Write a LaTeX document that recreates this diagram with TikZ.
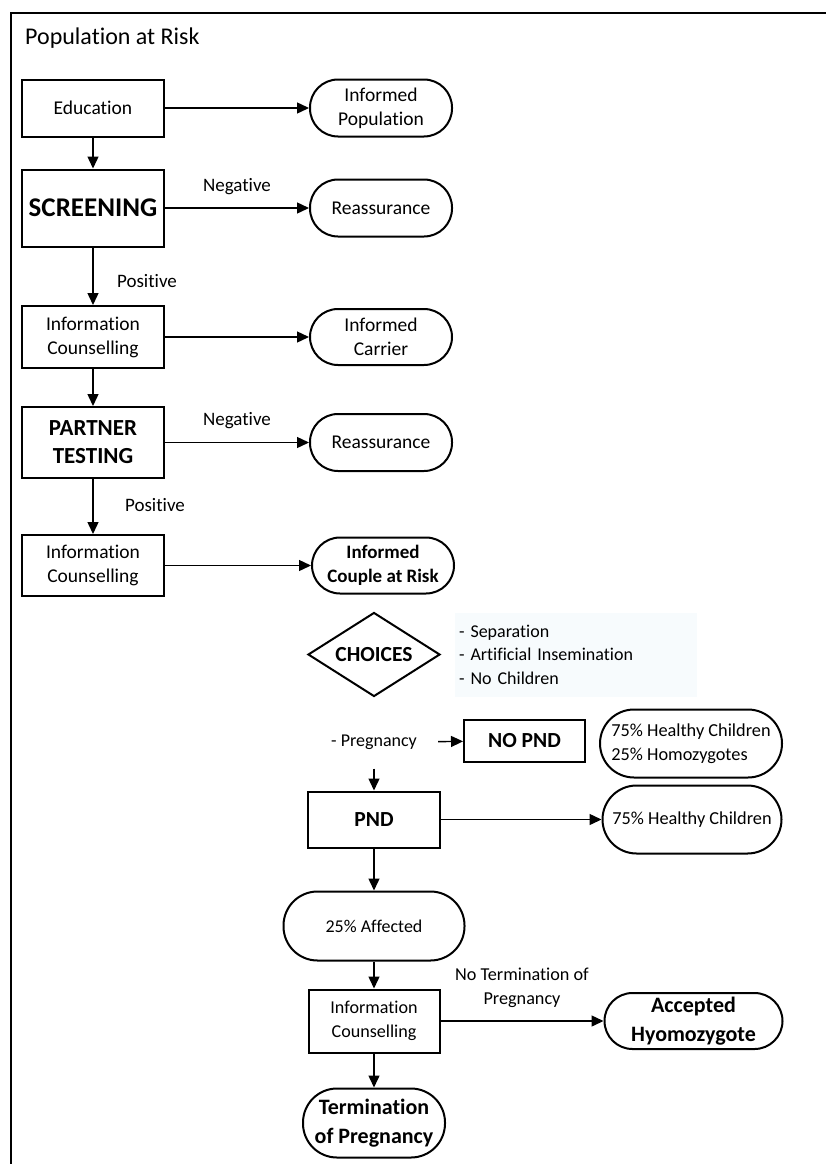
\documentclass[tikz,border=0pt]{standalone}
\usepackage{fontspec}
\setmainfont{Carlito}[Ligatures=NoCommon]
\usetikzlibrary{shapes.geometric, arrows.meta, positioning}
\definecolor{optfill}{RGB}{247,251,253}
\tikzstyle{process} = [
  rectangle,
  minimum width=142pt,
  minimum height=57pt,
  inner sep=2pt,
  text centered,
  align=center,
  draw=black,
  line width=2pt,
  font=\fontsize{19.5}{24}\selectfont
]
\tikzstyle{terminal} = [
  rectangle,
  rounded corners=28pt,
  minimum width=142pt,
  minimum height=57pt,
  inner sep=2pt,
  text centered,
  align=center,
  draw=black,
  line width=2pt,
  font=\fontsize{19.5}{24}\selectfont
]
\tikzstyle{decision} = [
  diamond,
  aspect=1.57,
  minimum width=132pt,
  minimum height=84pt,
  inner sep=0pt,
  draw=black,
  line width=2pt,
  font=\bfseries\fontsize{21.5}{26}\selectfont
]
\tikzstyle{branch} = [font=\fontsize{19}{24}\selectfont, align=center]
\tikzstyle{lower} = [font=\fontsize{18.3}{24}\selectfont]
\tikzstyle{arrow} = [line width=1.4pt, -{Triangle[length=12pt, width=11pt]}]

\begin{document}
\begin{tikzpicture}[x=1pt, y=1pt, node distance=100pt]
    \useasboundingbox (0,0) rectangle (825,-1164);
    \draw [line width=2.4pt] (11,-13) rectangle (860,-1200);
    \node (title) [anchor=west, inner sep=0pt, font=\fontsize{24}{29}\selectfont] at (25,-38) {Population at Risk};

    \node (education) [process] at (93,-108) {Education};
    \node (inf-population) [terminal, right of=education, xshift=188pt] {Informed\\Population};
    \node (screening) [process, below of=education, minimum height=77pt, font=\bfseries\fontsize{27}{32}\selectfont] {SCREENING};
    \node (reassurance-a) [terminal, right of=screening, xshift=188pt] {Reassurance};
    \node (info-a) [process, below of=screening, yshift=-29pt, minimum height=62pt] {Information\\Counselling};
    \node (inf-carrier) [terminal, right of=info-a, xshift=188pt, minimum height=56pt] {Informed\\Carrier};
    \node (partner) [process, below of=info-a, yshift=-5.5pt, minimum height=71pt, font=\bfseries\fontsize{23}{28}\selectfont] {PARTNER\\TESTING};
    \node (reassurance-b) [terminal, right of=partner, xshift=188pt] {Reassurance};
    \node (info-b) [process, below of=partner, yshift=-23pt, minimum height=61pt] {Information\\Counselling};
    \node (couple) [terminal, right of=info-b, xshift=190pt, minimum height=56pt, font=\bfseries\fontsize{19}{24}\selectfont] {Informed\\Couple at Risk};

    \node (choices) [decision, below of=couple, xshift=-9pt, yshift=11pt] {CHOICES};
    \node (options) [right of=choices, xshift=102pt, fill=optfill, minimum width=242pt, minimum height=84pt,
      text width=234pt, inner xsep=4pt, align=left, font=\fontsize{18}{23.5}\selectfont]
      {- Separation\\- Artificial Insemination\\- No Children};
    \node (pregnancy) [below of=choices, yshift=12pt, minimum width=128pt, minimum height=52pt, font=\fontsize{18}{23.5}\selectfont] {- Pregnancy};
    \node (no-pnd) [process, right of=pregnancy, xshift=50.5pt, yshift=2pt, minimum width=121pt, minimum height=42pt, font=\bfseries\fontsize{21.5}{26}\selectfont] {NO PND};
    \node (healthy-homoz) [terminal, right of=no-pnd, xshift=66.5pt, yshift=-3pt, rounded corners=34pt, minimum width=182pt, minimum height=68pt, align=left, lower] {75\% Healthy Children\\25\% Homozygotes};
    \node (pnd) [process, below of=pregnancy, yshift=23pt, minimum width=132pt, minimum height=56pt, font=\bfseries\fontsize{21.5}{26}\selectfont] {PND};
    \node (healthy) [terminal, right of=pnd, xshift=218pt, rounded corners=34pt, minimum width=179pt, minimum height=68pt, lower] {75\% Healthy Children};
    \node (affected) [terminal, below of=pnd, yshift=-6.5pt, rounded corners=34pt, minimum width=181pt, minimum height=69pt, font=\fontsize{18}{24}\selectfont] {25\% Affected};
    \node (info-c) [process, below of=affected, yshift=5pt, minimum width=131pt, minimum height=63pt, font=\fontsize{18.1}{24}\selectfont] {Information\\Counselling};
    \node (accepted) [terminal, right of=info-c, xshift=219.5pt, minimum width=178pt, minimum height=56pt, font=\bfseries\fontsize{22}{29}\selectfont] {Accepted\\Hyomozygote};
    \node (termination) [terminal, below of=info-c, yshift=-2pt, rounded corners=34pt, minimum height=69pt, font=\bfseries\fontsize{22}{29}\selectfont] {Termination\\of Pregnancy};

    \draw [arrow] (education) -- (inf-population);
    \draw [arrow] (education) -- (screening);
    \draw [arrow] (screening) -- node[branch, yshift=21pt] {Negative} (reassurance-a);
    \draw [arrow] (screening) -- node[branch, xshift=54pt, yshift=-4.5pt] {Positive} (info-a);
    \draw [arrow] (info-a) -- (inf-carrier);
    \draw [arrow] (info-a) -- (partner);
    \draw [arrow] (partner) -- node[branch, yshift=21.5pt] {Negative} (reassurance-b);
    \draw [arrow] (partner) -- node[branch, xshift=62pt, yshift=1.5pt] {Positive} (info-b);
    \draw [arrow] (info-b) -- (couple);
    \draw [arrow] (pregnancy) -- (no-pnd);
    \draw [arrow] (pregnancy) -- (pnd);
    \draw [arrow] (pnd) -- (healthy);
    \draw [arrow] (pnd) -- (affected);
    \draw [arrow] (affected) -- (info-c);
    \draw [arrow] (info-c) -- node[branch, font=\fontsize{18.2}{24}\selectfont, yshift=33pt] {No Termination of\\Pregnancy} (accepted);
    \draw [arrow] (info-c) -- (termination);
  \end{tikzpicture}
\end{document}
